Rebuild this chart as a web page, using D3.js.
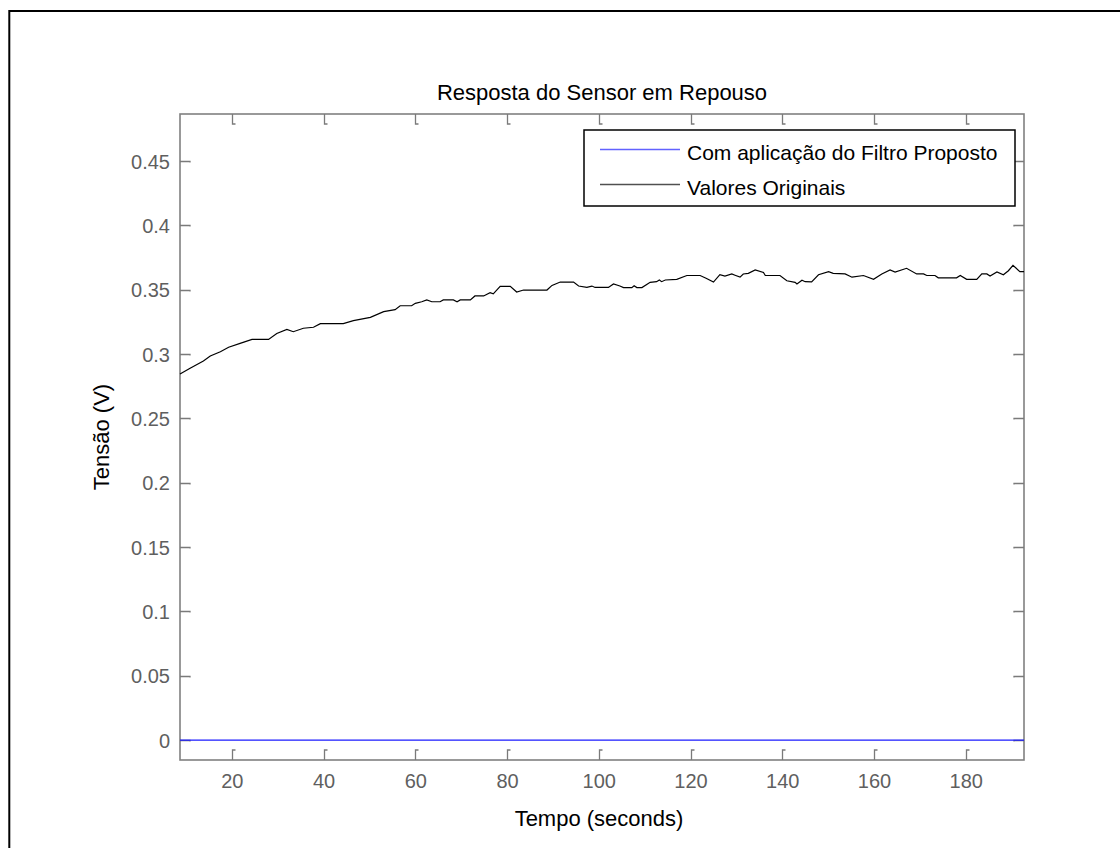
<!DOCTYPE html>
<html>
<head>
<meta charset="utf-8">
<script src="https://cdn.jsdelivr.net/npm/d3@7"></script>
<style>
  html, body { margin: 0; padding: 0; background: #fff; }
  svg { display: block; }
  text { font-family: "Liberation Sans", Arial, sans-serif; }
</style>
</head>
<body>
<svg id="chart" width="1120" height="848"></svg>
<script>
// Sensor output at rest (V) over time (s)
const timeSeconds = [
  8.7, 10.9, 13.8, 15.3, 17.5, 19.3, 21.8, 24.4, 28.0, 29.8, 32.0, 33.4, 35.6, 37.8, 39.3,
  44.3, 46.5, 50.2, 53.1, 55.6, 56.7, 59.2, 60.0, 61.4, 62.5, 63.6, 65.4, 66.1, 68.3, 69.1,
  69.8, 72.0, 73.0, 74.9, 76.3, 77.0, 78.5, 80.7, 82.1, 83.6, 88.7, 89.8, 91.6, 94.5, 95.6,
  97.4, 98.5, 99.2, 102.1, 103.2, 104.6, 105.4, 107.2, 107.7, 108.3, 109.4, 111.2, 112.6, 113.2,
  113.7, 114.5, 117.0, 119.2, 122.1, 123.5, 125.0, 126.4, 127.5, 129.0, 129.7, 130.8, 131.5, 132.6,
  134.1, 135.9, 136.3, 139.5, 141.0, 142.8, 143.2, 144.3, 145.0, 146.4, 147.9, 150.1, 151.1, 153.7,
  155.2, 157.7, 159.9, 161.7, 163.5, 164.6, 167.1, 169.3, 170.8, 171.5, 173.3, 174.0, 178.0, 178.8,
  180.2, 182.4, 183.5, 184.6, 185.3, 186.8, 188.2, 189.3, 190.3, 191.8, 192.7
];
const originalValues = [
  0.2845, 0.2889, 0.2945, 0.2984, 0.3018, 0.3052, 0.3083, 0.3113, 0.3113, 0.3160, 0.3191, 0.3173, 0.3200, 0.3208, 0.3236,
  0.3236, 0.3259, 0.3285, 0.3329, 0.3345, 0.3375, 0.3375, 0.3394, 0.3406, 0.3420, 0.3406, 0.3406, 0.3420, 0.3420, 0.3406,
  0.3420, 0.3420, 0.3451, 0.3451, 0.3477, 0.3467, 0.3526, 0.3526, 0.3482, 0.3497, 0.3497, 0.3533, 0.3559, 0.3559, 0.3528,
  0.3518, 0.3528, 0.3517, 0.3517, 0.3544, 0.3528, 0.3516, 0.3516, 0.3531, 0.3516, 0.3516, 0.3557, 0.3562, 0.3575,
  0.3562, 0.3575, 0.3580, 0.3610, 0.3610, 0.3587, 0.3559, 0.3616, 0.3606, 0.3622, 0.3612, 0.3597, 0.3622, 0.3627,
  0.3653, 0.3634, 0.3610, 0.3610, 0.3569, 0.3557, 0.3544, 0.3573, 0.3562, 0.3560, 0.3616, 0.3640, 0.3627, 0.3622,
  0.3597, 0.3610, 0.3580, 0.3622, 0.3653, 0.3637, 0.3666, 0.3622, 0.3622, 0.3610, 0.3610, 0.3592, 0.3592, 0.3610,
  0.3580, 0.3580, 0.3622, 0.3622, 0.3606, 0.3637, 0.3616, 0.3647, 0.3689, 0.3640, 0.3640
];
// Output of the proposed filter (flat at zero)
const filteredTime = [8.7, 192.7];
const filteredValues = [0, 0];

const xTicks = [20, 40, 60, 80, 100, 120, 140, 160, 180];
const yTicks = [0, 0.05, 0.1, 0.15, 0.2, 0.25, 0.3, 0.35, 0.4, 0.45];
const yTickLabels = ["0", "0.05", "0.1", "0.15", "0.2", "0.25", "0.3", "0.35", "0.4", "0.45"];
const seriesNames = ["Com aplicação do Filtro Proposto", "Valores Originais"];
const seriesColors = ["#1a1aff", "#000000"];
const legendColors = ["#6262ff", "#505050"];

const svg = d3.select("#chart");
const L = 180, R = 1024, T = 114, B = 760;
const x = d3.scaleLinear().domain([8.7, 192.7]).range([L, R]);
const y = d3.scaleLinear().domain([-0.0155, 0.4865]).range([B, T]);

// Figure frame
svg.append("rect").attr("x", 9.3).attr("y", 11).attr("width", 1200).attr("height", 900)
  .attr("fill", "none").attr("stroke", "#000").attr("stroke-width", 2);

// Axes box
svg.append("rect").attr("x", L).attr("y", T).attr("width", R - L).attr("height", B - T)
  .attr("fill", "#fff").attr("stroke", "#808080").attr("stroke-width", 1.6);

const tickStyle = g => g.attr("fill", "none").attr("stroke", "#7a7a7a").attr("stroke-width", 1.3);

// Inward ticks on all four sides
const ticks = svg.append("g").call(tickStyle);
xTicks.forEach(t => {
  const px = Math.round(x(t)) + 0.5;
  ticks.append("path").attr("d", `M${px},${B} V${B - 10} h3`);
  ticks.append("path").attr("d", `M${px},${T} V${T + 10} h3`);
});
yTicks.forEach(t => {
  const py = Math.round(y(t)) + 0.5;
  ticks.append("path").attr("d", `M${L},${py} H${L + 10} v1`);
  ticks.append("path").attr("d", `M${R},${py} H${R - 10} v1`);
});

// Tick labels via D3 axes (tick lines hidden; drawn above)
const xAxis = d3.axisBottom(x).tickValues(xTicks).tickSize(0).tickPadding(0).tickFormat(d3.format("d"));
const gx = svg.append("g").attr("transform", `translate(0,${B})`).call(xAxis);
gx.select(".domain").remove();
gx.selectAll("text").attr("font-size", 20).attr("fill", "#5f5f5f")
  .attr("font-family", "Liberation Sans, Arial, sans-serif").attr("dy", null).attr("y", 28);

const yAxis = d3.axisLeft(y).tickValues(yTicks).tickSize(0).tickPadding(10)
  .tickFormat((d, i) => yTickLabels[i]);
const gy = svg.append("g").attr("transform", `translate(${L},0)`).call(yAxis);
gy.select(".domain").remove();
gy.selectAll("text").attr("font-size", 20).attr("fill", "#5f5f5f")
  .attr("font-family", "Liberation Sans, Arial, sans-serif").attr("dy", "0.36em");

// Data lines
const plot = svg.append("g");
const line = d3.line().x(d => x(d[0])).y(d => y(d[1]));
plot.append("path")
  .datum(filteredTime.map((t, i) => [t, filteredValues[i]]))
  .attr("d", line).attr("fill", "none").attr("stroke", seriesColors[0]).attr("stroke-width", 1.3);
plot.append("path")
  .datum(timeSeconds.map((t, i) => [t, originalValues[i]]))
  .attr("d", line).attr("fill", "none").attr("stroke", seriesColors[1]).attr("stroke-width", 1.2);

// Title and axis labels
svg.append("text").attr("x", 602).attr("y", 100).attr("text-anchor", "middle")
  .attr("font-size", 22).attr("fill", "#000").text("Resposta do Sensor em Repouso");
svg.append("text").attr("x", 599).attr("y", 826).attr("text-anchor", "middle")
  .attr("font-size", 22).attr("fill", "#000").text("Tempo (seconds)");
svg.append("text").attr("transform", `translate(109,437) rotate(-90)`).attr("text-anchor", "middle")
  .attr("font-size", 22).attr("fill", "#000").text("Tensão (V)");

// Legend
const lg = svg.append("g");
lg.append("rect").attr("x", 584).attr("y", 130).attr("width", 431).attr("height", 76)
  .attr("fill", "#fff").attr("stroke", "#000").attr("stroke-width", 1.5);
const legendRows = [149.5, 184.5];
seriesNames.forEach((name, i) => {
  lg.append("line").attr("x1", 600).attr("x2", 680).attr("y1", legendRows[i]).attr("y2", legendRows[i])
    .attr("stroke", legendColors[i]).attr("stroke-width", 1.5);
  lg.append("text").attr("x", 687).attr("y", legendRows[i] + 10).attr("font-size", 21)
    .attr("fill", "#000").text(name);
});
</script>
</body>
</html>
